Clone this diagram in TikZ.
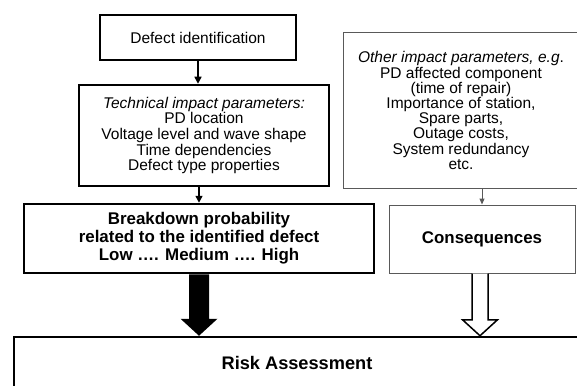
\documentclass[tikz,border=0pt]{standalone}
\usepackage{fontspec}
\setmainfont{Liberation Sans}
\usetikzlibrary{arrows.meta,calc}

\begin{document}
\begin{tikzpicture}[x=1pt, y=-1pt, every node/.style={rectangle, inner sep=0pt, align=center, font=\fontsize{15.5}{15.6}\selectfont},
	boldbox/.style={draw=black, line width=2.5pt},
	greybox/.style={draw=black!65, line width=1pt},
	boldtext/.style={font=\fontsize{16.9}{18}\selectfont\bfseries},
	thinarrow/.style={draw=black, line width=1.5pt, -{Triangle[width=7pt,length=7pt]}},
	greyarrow/.style={draw=black!65, line width=1pt, -{Triangle[width=5pt,length=6pt]}}]
				\useasboundingbox (0,0) rectangle (577,385);
				\clip (0,0) rectangle (577,385);
				\node[boldbox, minimum width=196, minimum height=45] (defect) at (198,37.5){Defect identification};
				\node[boldbox, minimum width=250, minimum height=101] (tech) at (204,135.5){\textit{Technical impact parameters:}\\PD location\\Voltage level and wave shape\\Time dependencies\\Defect type properties};
				\node[greybox, minimum width=236, minimum height=155, font=\fontsize{15.5}{15.2}\selectfont] (other) at (461,110.5){\textit{Other impact parameters, e.g}.\\PD affected component\\(time of repair)\\Importance of station,\\Spare parts,\\Outage costs,\\System redundancy\\etc.};
				\node[boldbox, boldtext, minimum width=350, minimum height=69] (breakdown) at (199,238.5){Breakdown probability\\related to the identified defect\\Low \dots. Medium \dots. High};
				\node[greybox, boldtext, minimum width=186, minimum height=68] (conseq) at (482,239){Consequences};
				\node[boldbox, minimum width=566, minimum height=52, font=\fontsize{18.2}{19}\selectfont\bfseries] (risk) at (297,363){Risk Assessment};
				
				\path[thinarrow] (defect.south) -- (defect.south |- tech.north);
				\path[thinarrow] (breakdown.north |- tech.south) -- (breakdown.north);
				\path[greyarrow] (conseq.north |- other.south) -- (conseq.north);
				
				\coordinate (tipA) at (breakdown.south |- risk.north);
				\coordinate (tipB) at ($(conseq.south |- risk.north)+(-2,0)$);
				\fill[black] ($(breakdown.south)+(-10,0)$) -- ($(tipA)+(-10,-17)$) -- ($(tipA)+(-18.5,-17)$) -- (tipA) -- ($(tipA)+(18.5,-17)$) -- ($(tipA)+(10,-17)$) -- ($(breakdown.south)+(10,0)$) -- cycle;
				\draw[black, line width=1.5pt, fill=white, line join=miter] ($(conseq.south)+(-10,0)$) -- ($(tipB)+(-8,-16)$) -- ($(tipB)+(-17.5,-16)$) -- (tipB) -- ($(tipB)+(17.5,-16)$) -- ($(tipB)+(8,-16)$) -- ($(conseq.south)+(6,0)$);
\end{tikzpicture}
\end{document}
